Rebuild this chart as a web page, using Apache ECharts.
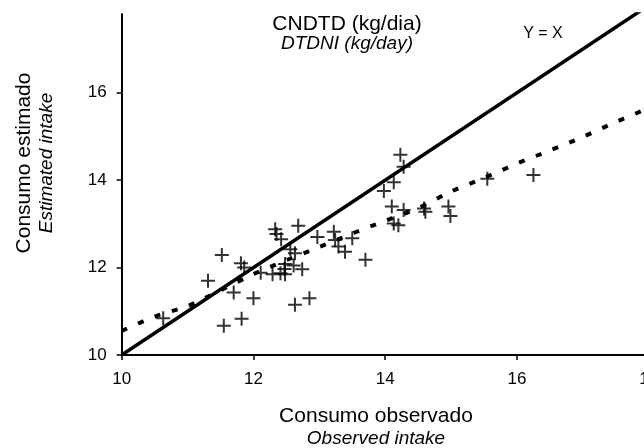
<!DOCTYPE html>
<html>
<head>
<meta charset="utf-8">
<title>CNDTD</title>
<script src="https://cdn.jsdelivr.net/npm/echarts@6/dist/echarts.min.js"></script>
<style>
    html, body {margin: 0; padding: 0; background: #fff;}
    #main {width: 644px; height: 448px;}
</style>
</head>
<body>
<div id="main"></div>
<script>
// 观测值 / 估计值 (散点 +)
var obsX = [10.63, 11.31, 11.52, 11.55, 11.70, 11.81, 11.82, 11.86, 12.00, 12.11,
    12.29, 12.33, 12.35, 12.42, 12.41, 12.48, 12.48, 12.47, 12.56, 12.63,
    12.63, 12.68, 12.74, 12.61, 12.85, 12.97, 13.22, 13.24, 13.29, 13.39,
    13.50, 13.70, 13.98, 14.13, 14.10, 14.28, 14.13, 14.20, 14.23, 14.28,
    14.59, 14.61, 14.96, 14.99, 15.55, 16.25];
var estY = [10.84, 11.70, 12.29, 10.67, 11.43, 12.10, 10.83, 12.00, 11.30, 11.88,
    11.85, 12.88, 12.77, 12.65, 11.87, 12.08, 11.85, 11.97, 12.42, 12.33,
    11.15, 12.96, 11.96, 12.05, 11.30, 12.70, 12.82, 12.63, 12.48, 12.36,
    12.67, 12.18, 13.75, 13.95, 13.40, 13.32, 13.01, 12.97, 14.58, 14.31,
    13.35, 13.28, 13.40, 13.18, 14.03, 14.12];

// 拟合曲线 (虚线)
var fitX = [10.0, 10.5, 11.0, 11.5, 12.0, 12.5, 13.0, 13.5, 14.0, 14.5, 15.0, 15.5, 16.0, 16.5, 17.0, 17.5, 18.0];
var fitY = [10.55, 10.88, 11.12, 11.48, 11.85, 12.17, 12.47, 12.78, 13.07, 13.36, 13.74, 14.05, 14.38, 14.68, 14.99, 15.33, 15.65];

// Y = X
var lineX = [10, 18];

// 刻度
var xTicks = [10, 12, 14, 16, 18];
var yTicks = [10, 12, 14, 16];

var scatterData = [];
for (var i = 0; i < obsX.length; i++) {
    scatterData.push([obsX[i], estY[i]]);
}
var fitData = [];
for (var j = 0; j < fitX.length; j++) {
    fitData.push([fitX[j], fitY[j]]);
}
var idData = [];
for (var k = 0; k < lineX.length; k++) {
    idData.push([lineX[k], lineX[k]]);
}

var font = '"Liberation Sans", Arial, sans-serif';
var plus = 'path://M0,6h6v-6h2v6h6v2h-6v6h-2v-6h-6z';

var chart = echarts.init(document.getElementById('main'));
var option = {
    animation: false,
    backgroundColor: '#fff',
    grid: {
        left: 121.7,
        right: -4.7,
        top: 14.1,
        bottom: 93,
        containLabel: false,
        outerBoundsMode: 'none'
    },
    xAxis: {
        type: 'value',
        min: 10,
        max: 18,
        interval: 2,
        splitLine: {show: false},
        axisLine: {onZero: false, lineStyle: {color: '#000', width: 2}},
        axisTick: {length: 5, lineStyle: {color: '#000', width: 1.5}, customValues: xTicks},
        axisLabel: {
            color: '#000', fontSize: 17, fontFamily: font, margin: 16,
            customValues: xTicks
        }
    },
    yAxis: {
        type: 'value',
        min: 10,
        max: 17.8,
        splitLine: {show: false},
        axisLine: {onZero: false, lineStyle: {color: '#000', width: 2}},
        axisTick: {length: 5, lineStyle: {color: '#000', width: 1.5}, customValues: yTicks},
        axisLabel: {
            color: '#000', fontSize: 17, fontFamily: font, margin: 15,
            customValues: yTicks
        }
    },
    series: [
        {
            name: 'Y = X',
            type: 'line',
            data: idData,
            showSymbol: false,
            symbol: 'none',
            lineStyle: {color: '#000', width: 3.5},
            z: 3
        },
        {
            name: 'fit',
            type: 'line',
            data: fitData,
            smooth: 0.3,
            symbol: 'none',
            lineStyle: {color: '#000', width: 4, type: [6, 12], cap: 'butt'},
            z: 3
        },
        {
            name: 'obs',
            type: 'scatter',
            data: scatterData,
            symbol: plus,
            symbolSize: 14,
            itemStyle: {color: '#000'},
            z: 4
        }
    ],
    graphic: [
        {
            type: 'text', x: 347, y: 24,
            style: {text: 'CNDTD (kg/dia)', fontSize: 21, fontFamily: font, fill: '#000',
                align: 'center', verticalAlign: 'middle'}
        },
        {
            type: 'text', x: 347, y: 44,
            style: {text: 'DTDNI (kg/day)', fontSize: 19, fontStyle: 'italic', fontFamily: font, fill: '#000',
                align: 'center', verticalAlign: 'middle'}
        },
        {
            type: 'text', x: 543, y: 34,
            style: {text: 'Y = X', fontSize: 16, fontFamily: font, fill: '#000',
                align: 'center', verticalAlign: 'middle'}
        },
        {
            type: 'text', x: 376, y: 416,
            style: {text: 'Consumo observado', fontSize: 21, fontFamily: font, fill: '#000',
                align: 'center', verticalAlign: 'middle'}
        },
        {
            type: 'text', x: 376, y: 439,
            style: {text: 'Observed intake', fontSize: 19, fontStyle: 'italic', fontFamily: font, fill: '#000',
                align: 'center', verticalAlign: 'middle'}
        },
        {
            type: 'text', x: 24, y: 163, rotation: Math.PI / 2,
            style: {text: 'Consumo estimado', fontSize: 21, fontFamily: font, fill: '#000',
                align: 'center', verticalAlign: 'middle'}
        },
        {
            type: 'text', x: 47, y: 163, rotation: Math.PI / 2,
            style: {text: 'Estimated intake', fontSize: 19, fontStyle: 'italic', fontFamily: font, fill: '#000',
                align: 'center', verticalAlign: 'middle'}
        }
    ]
};
chart.setOption(option);
</script>
</body>
</html>
